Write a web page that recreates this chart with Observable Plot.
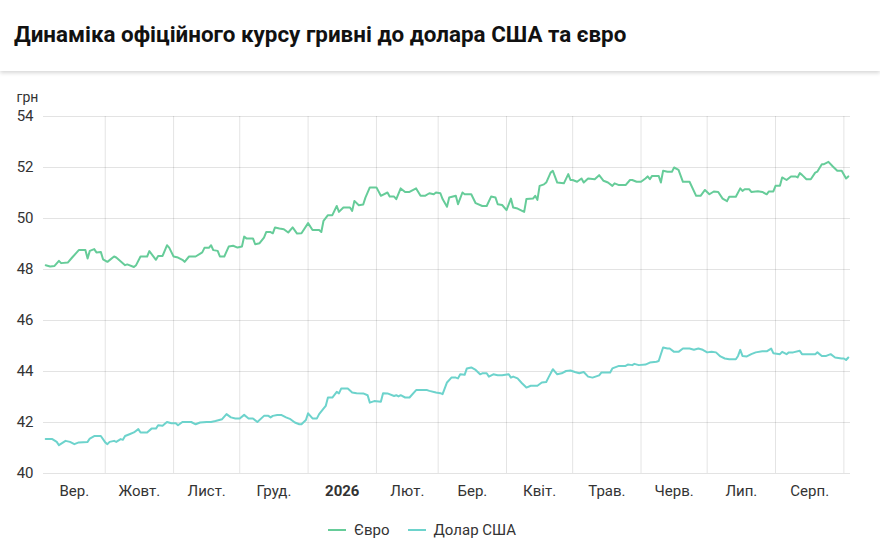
<!DOCTYPE html>
<html>
<head>
<meta charset="utf-8">
<script src="https://cdn.jsdelivr.net/npm/d3@7"></script>
<script src="https://cdn.jsdelivr.net/npm/@observablehq/plot@0.6"></script>
<style>
  html, body { margin: 0; padding: 0; background: #fff; width: 880px; overflow: hidden; }
  body { font-family: Roboto, "Noto Sans", sans-serif; color: #222; }
  .title { height: 71px; box-sizing: border-box; padding: 20px 0 0 14px; font-size: 22.4px; line-height: 28px; font-weight: 700; color: #111;
           box-shadow: 0 2px 4px rgba(0,0,0,0.16); position: relative; z-index: 1; }
  .legend { display: flex; justify-content: center; gap: 18px; font-size: 15px; color: #333; margin-top: 2px; padding-right: 36px; }
  .legend span { display: inline-flex; align-items: center; }
  .legend i { display: inline-block; width: 18px; height: 2px; margin-right: 8px; }
</style>
</head>
<body>
<div class="title">Динаміка офіційного курсу гривні до долара США та євро</div>
<div id="chart"></div>
<div class="legend" id="legend"></div>
<script>
const seriesNames = ["Євро", "Долар США"];
const seriesColors = ["#66cc99", "#6dd3cc"];
const yTicks = [40, 42, 44, 46, 48, 50, 52, 54];
const yUnit = "грн";
const monthLabels = ["Вер.", "Жовт.", "Лист.", "Груд.", "2026", "Лют.", "Бер.", "Квіт.", "Трав.", "Черв.", "Лип.", "Серп."];
const monthStarts = ["2025-10-01","2025-11-01","2025-12-01","2026-01-01","2026-02-01","2026-03-01","2026-04-01","2026-05-01","2026-06-01","2026-07-01","2026-08-01","2026-09-01"];
const xDomain = ["2025-09-03", "2026-09-04"];

const eurDates = ["2025-09-04","2025-09-06","2025-09-08","2025-09-10","2025-09-11","2025-09-14","2025-09-16","2025-09-19","2025-09-22","2025-09-23","2025-09-24","2025-09-26","2025-09-27","2025-09-29","2025-09-30",
"2025-10-02","2025-10-05","2025-10-06","2025-10-10","2025-10-11","2025-10-14","2025-10-15","2025-10-17","2025-10-20","2025-10-21","2025-10-24","2025-10-25","2025-10-27","2025-10-29","2025-10-30",
"2025-11-01","2025-11-03","2025-11-05","2025-11-06","2025-11-08","2025-11-11","2025-11-14","2025-11-15","2025-11-17","2025-11-18","2025-11-19","2025-11-21","2025-11-22","2025-11-24","2025-11-26","2025-11-28","2025-11-30",
"2025-12-02","2025-12-03","2025-12-04","2025-12-07","2025-12-08","2025-12-10","2025-12-12","2025-12-13","2025-12-15","2025-12-16","2025-12-17","2025-12-19","2025-12-21","2025-12-23","2025-12-25","2025-12-27","2025-12-29",
"2026-01-01","2026-01-03","2026-01-06","2026-01-07","2026-01-08","2026-01-10","2026-01-12","2026-01-14","2026-01-15","2026-01-17","2026-01-20","2026-01-21","2026-01-22","2026-01-24","2026-01-26","2026-01-27","2026-01-29",
"2026-02-01","2026-02-03","2026-02-06","2026-02-07","2026-02-09","2026-02-10","2026-02-12","2026-02-14","2026-02-16","2026-02-19","2026-02-21","2026-02-23","2026-02-25","2026-02-27","2026-02-28",
"2026-03-02","2026-03-03","2026-03-05","2026-03-06","2026-03-09","2026-03-10","2026-03-12","2026-03-13","2026-03-16","2026-03-18","2026-03-21","2026-03-23","2026-03-25","2026-03-27","2026-03-28","2026-03-30",
"2026-04-01","2026-04-03","2026-04-04","2026-04-06","2026-04-09","2026-04-10","2026-04-13","2026-04-14","2026-04-15","2026-04-16","2026-04-18","2026-04-19","2026-04-21","2026-04-22","2026-04-24","2026-04-27","2026-04-29","2026-04-30",
"2026-05-01","2026-05-03","2026-05-05","2026-05-06","2026-05-08","2026-05-11","2026-05-13","2026-05-15","2026-05-17","2026-05-19","2026-05-20","2026-05-22","2026-05-25","2026-05-27","2026-05-28","2026-05-30",
"2026-06-01","2026-06-03","2026-06-04","2026-06-05","2026-06-06","2026-06-09","2026-06-10","2026-06-11","2026-06-13","2026-06-15","2026-06-16","2026-06-18","2026-06-20","2026-06-23","2026-06-26","2026-06-28","2026-06-30",
"2026-07-02","2026-07-04","2026-07-06","2026-07-08","2026-07-10","2026-07-11","2026-07-14","2026-07-16","2026-07-17","2026-07-18","2026-07-20","2026-07-21","2026-07-24","2026-07-26","2026-07-28","2026-07-29","2026-07-31",
"2026-08-01","2026-08-03","2026-08-04","2026-08-06","2026-08-08","2026-08-10","2026-08-11","2026-08-12","2026-08-13","2026-08-15","2026-08-17","2026-08-19","2026-08-20","2026-08-22","2026-08-23","2026-08-25","2026-08-27","2026-08-29","2026-08-31",
"2026-09-02","2026-09-03"];
const eurValues = [48.17,48.12,48.14,48.34,48.25,48.27,48.47,48.76,48.76,48.43,48.73,48.80,48.67,48.69,48.40,
48.30,48.51,48.47,48.17,48.20,48.10,48.17,48.51,48.51,48.72,48.38,48.53,48.53,48.95,48.86,
48.51,48.47,48.38,48.30,48.51,48.51,48.67,48.85,48.85,48.95,48.76,48.73,48.51,48.51,48.90,48.93,48.86,
48.90,49.29,49.22,49.22,48.99,49.03,49.25,49.47,49.47,49.42,49.65,49.61,49.58,49.45,49.65,49.41,49.42,
49.82,49.55,49.55,49.47,49.91,50.13,50.13,50.49,50.26,50.43,50.43,50.30,50.69,50.52,50.55,50.82,51.22,
51.22,50.89,51.02,50.86,50.86,50.76,51.18,51.04,51.04,51.18,50.89,50.89,50.99,50.95,51.02,
50.99,50.76,50.46,50.82,50.89,50.56,51.02,50.95,50.95,50.60,50.49,50.49,50.86,50.82,50.56,50.53,
50.33,50.78,50.43,50.39,50.26,50.76,50.78,50.89,50.73,51.28,51.34,51.41,51.80,51.87,51.41,51.38,51.74,51.51,
51.51,51.44,51.57,51.41,51.57,51.54,51.70,51.48,51.41,51.28,51.38,51.31,51.31,51.51,51.51,51.44,
51.44,51.57,51.65,51.54,51.67,51.67,51.41,51.87,51.83,51.83,52.00,51.91,51.44,51.44,50.89,50.89,51.12,
50.95,51.06,51.04,50.78,50.68,50.85,50.85,51.18,51.08,51.15,51.15,51.04,51.07,51.04,50.95,51.06,51.06,
51.28,51.28,51.61,51.51,51.65,51.65,51.61,51.78,51.71,51.54,51.54,51.80,51.84,52.13,52.13,52.22,52.04,51.87,51.87,
51.57,51.65];

const usdDates = ["2025-09-04","2025-09-07","2025-09-09","2025-09-10","2025-09-13","2025-09-15","2025-09-17","2025-09-19","2025-09-23","2025-09-24","2025-09-26","2025-09-29",
"2025-10-01","2025-10-02","2025-10-03","2025-10-05","2025-10-06","2025-10-08","2025-10-09","2025-10-10","2025-10-12","2025-10-14","2025-10-16","2025-10-17","2025-10-20","2025-10-22","2025-10-24","2025-10-25","2025-10-27","2025-10-29","2025-10-31",
"2025-11-02","2025-11-03","2025-11-05","2025-11-09","2025-11-11","2025-11-13","2025-11-16","2025-11-18","2025-11-20","2025-11-23","2025-11-25","2025-11-27","2025-11-29",
"2025-12-01","2025-12-03","2025-12-05","2025-12-07","2025-12-09","2025-12-12","2025-12-14","2025-12-15","2025-12-16","2025-12-18","2025-12-20","2025-12-22","2025-12-24","2025-12-26","2025-12-28","2025-12-29","2025-12-31",
"2026-01-01","2026-01-03","2026-01-05","2026-01-06","2026-01-09","2026-01-10","2026-01-12","2026-01-14","2026-01-15","2026-01-16","2026-01-19","2026-01-21","2026-01-23","2026-01-26","2026-01-28","2026-01-29","2026-01-31",
"2026-02-03","2026-02-04","2026-02-06","2026-02-09","2026-02-10","2026-02-11","2026-02-12","2026-02-14","2026-02-16","2026-02-19","2026-02-24","2026-02-25","2026-02-28",
"2026-03-02","2026-03-03","2026-03-05","2026-03-07","2026-03-09","2026-03-10","2026-03-11","2026-03-13","2026-03-14","2026-03-16","2026-03-18","2026-03-20","2026-03-21","2026-03-23","2026-03-24","2026-03-26","2026-03-28","2026-03-30",
"2026-04-02","2026-04-03","2026-04-04","2026-04-06","2026-04-08","2026-04-10","2026-04-12","2026-04-15","2026-04-17","2026-04-19","2026-04-20","2026-04-22","2026-04-24","2026-04-26","2026-04-28","2026-04-30",
"2026-05-02","2026-05-04","2026-05-06","2026-05-08","2026-05-10","2026-05-13","2026-05-14","2026-05-18","2026-05-19","2026-05-22","2026-05-25","2026-05-26","2026-05-28","2026-05-29","2026-05-31",
"2026-06-03","2026-06-05","2026-06-08","2026-06-09","2026-06-11","2026-06-13","2026-06-14","2026-06-16","2026-06-18","2026-06-20","2026-06-23","2026-06-25","2026-06-27","2026-06-29",
"2026-07-01","2026-07-03","2026-07-05","2026-07-07","2026-07-09","2026-07-11","2026-07-14","2026-07-15","2026-07-16","2026-07-17","2026-07-19","2026-07-21","2026-07-23","2026-07-26","2026-07-28","2026-07-30","2026-07-31",
"2026-08-03","2026-08-04","2026-08-06","2026-08-07","2026-08-09","2026-08-12","2026-08-13","2026-08-17","2026-08-19","2026-08-20","2026-08-22","2026-08-24","2026-08-26","2026-08-28","2026-08-31",
"2026-09-01","2026-09-02","2026-09-03"];
const usdValues = [41.35,41.35,41.24,41.11,41.28,41.24,41.15,41.22,41.24,41.37,41.47,41.47,
41.22,41.15,41.24,41.28,41.24,41.35,41.32,41.47,41.54,41.61,41.74,41.61,41.61,41.76,41.76,41.89,41.87,42.02,41.97,
41.97,41.89,42.02,42.02,41.93,42.00,42.02,42.02,42.06,42.13,42.33,42.20,42.16,
42.16,42.30,42.16,42.16,42.02,42.26,42.26,42.20,42.26,42.29,42.29,42.20,42.13,42.00,41.93,41.93,42.10,
42.36,42.16,42.16,42.33,42.65,42.98,42.98,43.20,43.14,43.33,43.33,43.18,43.15,43.14,43.07,42.78,42.84,
42.81,43.15,43.14,43.04,43.07,43.02,43.07,42.98,42.98,43.27,43.27,43.24,43.18,
43.15,43.11,43.57,43.76,43.76,43.73,43.89,43.87,44.12,44.16,44.06,43.89,43.93,43.93,43.80,43.89,43.85,43.85,
43.89,43.76,43.80,43.73,43.54,43.37,43.44,43.44,43.57,43.59,43.76,44.09,43.89,43.93,44.02,44.04,
43.98,43.93,43.98,43.80,43.76,43.85,43.96,43.96,44.12,44.22,44.22,44.27,44.25,44.30,44.25,
44.27,44.35,44.38,44.41,44.94,44.90,44.90,44.77,44.77,44.90,44.90,44.85,44.90,44.85,
44.75,44.77,44.75,44.59,44.51,44.48,44.48,44.61,44.85,44.61,44.59,44.68,44.75,44.79,44.79,44.90,44.72,
44.68,44.77,44.68,44.75,44.75,44.81,44.68,44.68,44.68,44.75,44.61,44.61,44.68,44.55,44.51,
44.51,44.45,44.55];

const parse = s => new Date(s + "T00:00:00Z");
const eur = eurDates.map((d, i) => ({date: parse(d), value: eurValues[i], series: seriesNames[0]}));
const usd = usdDates.map((d, i) => ({date: parse(d), value: usdValues[i], series: seriesNames[1]}));

const domain = xDomain.map(parse);
const gridDates = monthStarts.map(parse);
const bounds = [domain[0], ...gridDates];
const labelDates = monthLabels.map((_, i) => new Date((+bounds[i] + +bounds[i + 1]) / 2));

const chart = Plot.plot({
  width: 880,
  height: 448,
  marginLeft: 43,
  marginRight: 30,
  marginTop: 45,
  marginBottom: 46,
  style: {fontFamily: "Roboto, 'Noto Sans', sans-serif", fontSize: "15px", color: "#333", background: "#fff", overflow: "visible"},
  x: {type: "utc", domain},
  y: {domain: [yTicks[0], yTicks[yTicks.length - 1]]},
  marks: [
    Plot.gridY(yTicks, {stroke: "#000", strokeOpacity: 0.11, strokeWidth: 1}),
    Plot.gridX(gridDates, {stroke: "#000", strokeOpacity: 0.11, strokeWidth: 1}),
    Plot.axisY(yTicks, {tickSize: 0, tickPadding: 10, label: null, fontSize: 15}),
    Plot.axisX(labelDates, {tickSize: 0, tickPadding: 12, label: null, fontSize: 15, tickFormat: (d, i) => monthLabels[i]}),
    Plot.text([yUnit], {frameAnchor: "top-left", textAnchor: "start", dx: -27, dy: -24, fontSize: 14, fill: "#333"}),
    Plot.line(usd, {x: "date", y: "value", stroke: seriesColors[1], strokeWidth: 2, curve: "linear"}),
    Plot.line(eur, {x: "date", y: "value", stroke: seriesColors[0], strokeWidth: 2, curve: "linear"})
  ]
});
d3.select(chart).selectAll("text").filter(function() { return this.textContent === "2026"; }).attr("font-weight", "bold").style("font-weight", "bold");
document.getElementById("chart").appendChild(chart);

const legend = document.getElementById("legend");
seriesNames.forEach((n, i) => {
  const s = document.createElement("span");
  s.innerHTML = `<i style="background:${seriesColors[i]}"></i>${n}`;
  legend.appendChild(s);
});
</script>
</body>
</html>
